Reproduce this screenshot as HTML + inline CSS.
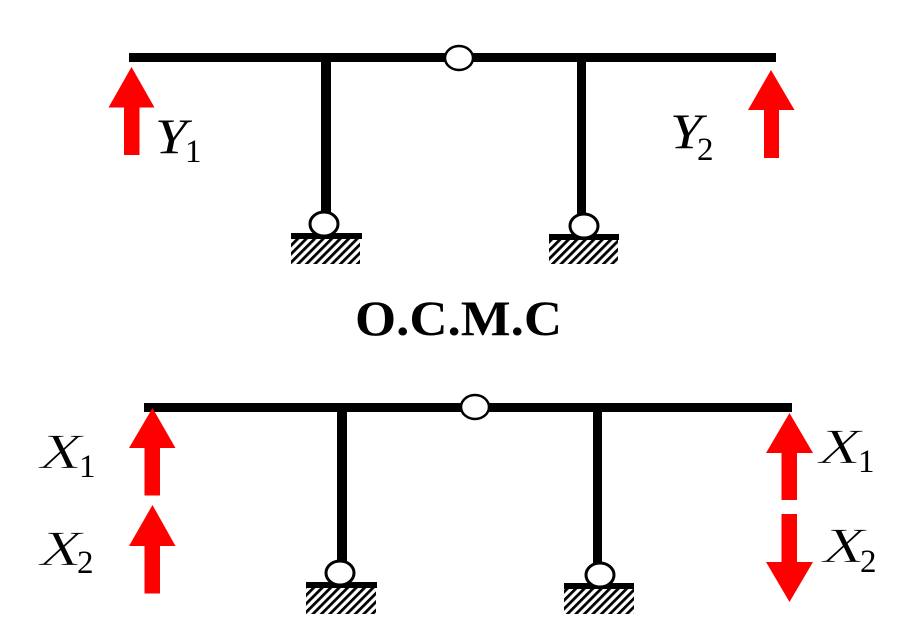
<!DOCTYPE html>
<html>
<head>
<meta charset="utf-8">
<style>
html,body{margin:0;padding:0;background:#fff;width:914px;height:632px;overflow:hidden}
svg{display:block}
text{font-family:"Liberation Serif",serif;fill:#000}
.v{font-style:italic;font-size:50px}
.x{stroke:#fff;stroke-width:.8px}
.s{font-size:33px}
</style>
</head>
<body>
<svg width="914" height="632" viewBox="0 0 914 632" xmlns="http://www.w3.org/2000/svg">
<defs>
<pattern id="h" width="6" height="6" patternUnits="userSpaceOnUse" patternTransform="rotate(45)">
<rect width="6" height="6" fill="#fff"/>
<rect x="0" width="2.8" height="6" fill="#000"/>
</pattern>
</defs>

<!-- top frame -->
<rect x="129" y="53" width="647" height="9"/>
<ellipse cx="459" cy="58" rx="14" ry="12" fill="#fff" stroke="#000" stroke-width="2.5"/>
<rect x="321" y="62" width="10" height="155"/>
<rect x="577" y="62" width="9" height="155"/>
<rect x="291" y="239" width="69" height="25" fill="url(#h)"/>
<rect x="549" y="240" width="69" height="24" fill="url(#h)"/>
<rect x="291" y="233" width="71" height="6"/>
<rect x="549" y="234" width="70" height="6"/>
<ellipse cx="324" cy="224" rx="14" ry="12" fill="#fff" stroke="#000" stroke-width="3"/>
<ellipse cx="584" cy="226" rx="14" ry="12" fill="#fff" stroke="#000" stroke-width="3"/>

<!-- bottom frame -->
<rect x="144" y="403" width="648" height="9"/>
<ellipse cx="475" cy="407" rx="14" ry="12" fill="#fff" stroke="#000" stroke-width="2.5"/>
<rect x="337" y="412" width="10" height="155"/>
<rect x="593" y="412" width="9" height="155"/>
<rect x="306" y="588" width="70" height="26" fill="url(#h)"/>
<rect x="564" y="589" width="70" height="25" fill="url(#h)"/>
<rect x="306" y="582" width="71" height="6"/>
<rect x="564" y="583" width="70" height="6"/>
<ellipse cx="340" cy="573" rx="14" ry="12" fill="#fff" stroke="#000" stroke-width="3"/>
<ellipse cx="600" cy="575" rx="14" ry="12" fill="#fff" stroke="#000" stroke-width="3"/>

<!-- arrows -->
<g fill="#f00">
<polygon points="131.5,67 154.5,107.5 139.5,107.5 139.5,155 124,155 124,107.5 108.5,107.5"/>
<polygon points="771,70 794.5,110 779,110 779,158 764,158 764,110 748,110"/>
<polygon points="152.5,408 175.5,448 160,448 160,495.5 144.5,495.5 144.5,448 129,448"/>
<polygon points="152.5,505 175.5,546 160,546 160,593.5 144.5,593.5 144.5,546 129,546"/>
<polygon points="789.5,413 813,453 797,453 797,500 781.5,500 781.5,453 766,453"/>
<polygon points="789.5,602 813,562 797,562 797,514 781.5,514 781.5,562 766,562"/>
</g>

<!-- labels -->
<text class="v" x="155" y="153" textLength="32" lengthAdjust="spacingAndGlyphs">Y</text><text class="s" x="185" y="162">1</text>
<text class="v" x="670" y="148" textLength="32" lengthAdjust="spacingAndGlyphs">Y</text><text class="s" x="697" y="160">2</text>
<text class="v x" x="40" y="468" textLength="42" lengthAdjust="spacingAndGlyphs">X</text><text class="s" x="79" y="477">1</text>
<text class="v x" x="40" y="565" textLength="42" lengthAdjust="spacingAndGlyphs">X</text><text class="s" x="77" y="573">2</text>
<text class="v x" x="819" y="463" textLength="42" lengthAdjust="spacingAndGlyphs">X</text><text class="s" x="858" y="472">1</text>
<text class="v x" x="823" y="562" textLength="42" lengthAdjust="spacingAndGlyphs">X</text><text class="s" x="860" y="572">2</text>
<text x="355" y="335" font-size="50" font-weight="bold" textLength="207" lengthAdjust="spacingAndGlyphs">O.C.M.C</text>
</svg>
</body>
</html>
